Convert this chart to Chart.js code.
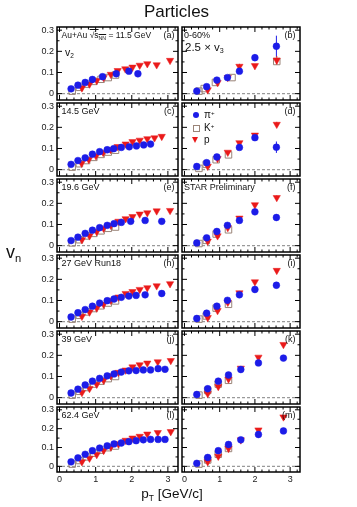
<!DOCTYPE html>
<html>
<head>
<meta charset="utf-8">
<script src="https://cdn.jsdelivr.net/npm/chart.js@4.4.0/dist/chart.umd.min.js"></script>
<style>
  body { margin: 0; background: #fff; }
  #wrap { position: relative; width: 357px; height: 507px; overflow: hidden;
          font-family: "Liberation Sans", Arial, sans-serif; color: #111; }
  #wrap canvas { position: absolute; }
  .lbl { position: absolute; line-height: 1; white-space: nowrap; }
  .sub { font-size: 0.62em; vertical-align: -0.35em; }
  .sup { font-size: 0.62em; vertical-align: 0.55em; }
  .mk { position: absolute; }
</style>
</head>
<body>
<div id="wrap"></div>
<script>
// ---- axis ranges and ticks
const xMin = -0.07, xMax = 3.28;
const yMin = -0.03, yMax = 0.315;
const xMajor = [0, 1, 2, 3];
const yMajor = [0, 0.1, 0.2, 0.3];

// ---- v2 (left column), pT bins
const pt_K_v2 = [0.35, 0.55, 0.75, 0.95, 1.15, 1.35, 1.55];

// 11.5 GeV
const pt_a_pi = [0.32, 0.51, 0.71, 0.91, 1.19, 1.57, 1.92, 2.17];
const v2_a_pi = [0.023, 0.040, 0.053, 0.067, 0.080, 0.094, 0.106, 0.094];
const pt_a_p = [0.62, 0.83, 1.03, 1.22, 1.42, 1.61, 1.82, 2.02, 2.22, 2.43, 2.69, 3.06];
const v2_a_p = [0.027, 0.045, 0.062, 0.076, 0.091, 0.109, 0.117, 0.125, 0.134, 0.141, 0.136, 0.157];
const v2_a_K = [0.012, 0.030, 0.045, 0.058, 0.068, 0.076, 0.088];

// 14.5 GeV
const pt_c_pi = [0.32, 0.51, 0.71, 0.91, 1.11, 1.32, 1.50, 1.71, 1.93, 2.13, 2.33, 2.52];
const v2_c_pi = [0.025, 0.043, 0.056, 0.073, 0.085, 0.094, 0.099, 0.105, 0.108, 0.112, 0.117, 0.121];
const pt_c_p = [0.61, 0.81, 1.01, 1.21, 1.41, 1.61, 1.83, 2.02, 2.22, 2.43, 2.63, 2.83];
const v2_c_p = [0.030, 0.048, 0.065, 0.081, 0.095, 0.109, 0.121, 0.132, 0.139, 0.146, 0.150, 0.157];
const v2_c_K = [0.012, 0.028, 0.043, 0.058, 0.072, 0.083, 0.092];

// 19.6 GeV
const pt_e_pi = [0.32, 0.51, 0.71, 0.91, 1.11, 1.32, 1.51, 1.71, 1.97, 2.37, 2.83];
const v2_e_pi = [0.024, 0.040, 0.058, 0.073, 0.085, 0.096, 0.104, 0.110, 0.115, 0.119, 0.115];
const pt_e_p = [0.62, 0.83, 1.03, 1.22, 1.42, 1.63, 1.83, 2.02, 2.22, 2.43, 2.69, 3.06];
const v2_e_p = [0.028, 0.046, 0.066, 0.082, 0.096, 0.115, 0.127, 0.137, 0.149, 0.155, 0.164, 0.166];
const v2_e_K = [0.013, 0.028, 0.046, 0.058, 0.070, 0.082, 0.088];

// 27 GeV Run18
const pt_h_pi = [0.32, 0.51, 0.71, 0.91, 1.11, 1.32, 1.51, 1.71, 1.92, 2.12, 2.37, 2.83];
const v2_h_pi = [0.022, 0.042, 0.057, 0.073, 0.088, 0.099, 0.107, 0.115, 0.121, 0.124, 0.127, 0.133];
const v2_h_p = [0.025, 0.045, 0.064, 0.082, 0.101, 0.116, 0.133, 0.142, 0.152, 0.160, 0.169, 0.179];
const v2_h_K = [0.012, 0.030, 0.046, 0.062, 0.075, 0.088, 0.098];

// 39 GeV
const pt_j_pi = [0.32, 0.51, 0.71, 0.91, 1.11, 1.32, 1.51, 1.71, 1.92, 2.12, 2.32, 2.52, 2.73, 2.92];
const v2_j_pi = [0.022, 0.040, 0.060, 0.078, 0.091, 0.103, 0.112, 0.121, 0.127, 0.128, 0.131, 0.131, 0.137, 0.134];
const pt_j_p = [0.62, 0.83, 1.03, 1.22, 1.42, 1.63, 1.83, 2.02, 2.22, 2.43, 2.72, 3.08];
const v2_j_p = [0.024, 0.043, 0.063, 0.082, 0.103, 0.119, 0.130, 0.145, 0.155, 0.163, 0.169, 0.175];
const v2_j_K = [0.012, 0.030, 0.048, 0.064, 0.078, 0.090, 0.100];

// 62.4 GeV
const v2_l_pi = [0.024, 0.045, 0.064, 0.083, 0.097, 0.109, 0.119, 0.124, 0.131, 0.136, 0.141, 0.143, 0.143, 0.143];
const v2_l_p = [0.024, 0.043, 0.062, 0.084, 0.103, 0.119, 0.138, 0.150, 0.159, 0.171, 0.179, 0.184];
const v2_l_K = [0.012, 0.031, 0.050, 0.070, 0.086, 0.099, 0.108];

// ---- 2.5 x v3 (right column)
const pt_v3_pi = [0.35, 0.63, 0.92, 1.22, 1.56, 2.00, 2.61];
const pt_v3_p = [0.66, 0.94, 1.23, 1.56, 2.00, 2.62];
const pt_v3_K = [0.41, 0.62, 0.90, 1.25];
const pt_v3_pi_hi = [0.35, 0.66, 0.96, 1.25, 1.60, 2.10, 2.81];
const pt_v3_p_hi = [0.66, 0.96, 1.25, 1.60, 2.10, 2.81];

const pt_b_K = [0.41, 0.56, 0.88, 1.35, 2.62];
const v3_b_pi = [0.012, 0.033, 0.064, 0.076, 0.106, 0.170, 0.224];
const err_b_pi = [0, 0.004, 0.005, 0.005, 0.006, 0.017, 0.050];
const v3_b_p = [0.018, 0.052, 0.076, 0.129, 0.132, 0.158];
const err_b_p = [0.004, 0.006, 0.006, 0.012, 0.006, 0.020];
const v3_b_K = [0.012, 0.024, 0.053, 0.076, 0.152];

const pt_d_pi = [0.35, 0.63, 0.92, 1.56, 2.00, 2.61];
const v3_d_pi = [0.015, 0.033, 0.060, 0.105, 0.151, 0.106];
const err_d_pi = [0, 0.004, 0.005, 0.006, 0.007, 0.027];
const v3_d_p = [0.016, 0.052, 0.082, 0.127, 0.163, 0.214];
const err_d_p = [0.004, 0.006, 0.006, 0.008, 0.008, 0.012];
const v3_d_K = [0.006, 0.025, 0.047, 0.070];

const v3_f_pi = [0.013, 0.037, 0.067, 0.096, 0.119, 0.160, 0.133];
const err_f_pi = [0, 0.004, 0.005, 0.005, 0.006, 0.006, 0.015];
const v3_f_p = [0.021, 0.046, 0.085, 0.130, 0.193, 0.227];
const err_f_p = [0.004, 0.006, 0.007, 0.008, 0.008, 0.010];
const v3_f_K = [0.010, 0.025, 0.055, 0.075];

const v3_i_pi = [0.015, 0.040, 0.073, 0.101, 0.127, 0.152, 0.172];
const v3_i_p = [0.019, 0.052, 0.091, 0.136, 0.188, 0.242];
const v3_i_K = [0.012, 0.027, 0.064, 0.082];

const pt_v3_K_hi = [0.41, 0.66, 0.96, 1.25];
const v3_k_pi = [0.015, 0.042, 0.078, 0.107, 0.133, 0.164, 0.187];
const v3_k_p = [0.019, 0.052, 0.088, 0.139, 0.191, 0.251];
const v3_k_K = [0.012, 0.034, 0.064, 0.082];

const v3_m_pi = [0.016, 0.047, 0.083, 0.116, 0.141, 0.169, 0.188];
const v3_m_p = [0.024, 0.053, 0.095, 0.140, 0.193, 0.262];
const v3_m_K = [0.012, 0.034, 0.064, 0.095];

// ---- panel layout (page pixels)
const colX = [57, 179];
const frameW = 121;
const rowY = [27, 103, 179, 255, 331, 407];
const rowH = [76, 76, 76, 76, 76, 65];

const panels = [
  { col: 0, row: 0, pi: [pt_a_pi, v2_a_pi], p: [pt_a_p, v2_a_p], K: [pt_K_v2, v2_a_K] },
  { col: 1, row: 0, pi: [pt_v3_pi, v3_b_pi, err_b_pi], p: [pt_v3_p, v3_b_p, err_b_p], K: [pt_b_K, v3_b_K] },
  { col: 0, row: 1, pi: [pt_c_pi, v2_c_pi], p: [pt_c_p, v2_c_p], K: [pt_K_v2, v2_c_K] },
  { col: 1, row: 1, pi: [pt_d_pi, v3_d_pi, err_d_pi], p: [pt_v3_p, v3_d_p, err_d_p], K: [pt_v3_K, v3_d_K] },
  { col: 0, row: 2, pi: [pt_e_pi, v2_e_pi], p: [pt_e_p, v2_e_p], K: [pt_K_v2, v2_e_K] },
  { col: 1, row: 2, pi: [pt_v3_pi, v3_f_pi, err_f_pi], p: [pt_v3_p, v3_f_p, err_f_p], K: [pt_v3_K, v3_f_K] },
  { col: 0, row: 3, pi: [pt_h_pi, v2_h_pi], p: [pt_e_p, v2_h_p], K: [pt_K_v2, v2_h_K] },
  { col: 1, row: 3, pi: [pt_v3_pi, v3_i_pi], p: [pt_v3_p, v3_i_p], K: [pt_v3_K, v3_i_K] },
  { col: 0, row: 4, pi: [pt_j_pi, v2_j_pi], p: [pt_j_p, v2_j_p], K: [pt_K_v2, v2_j_K] },
  { col: 1, row: 4, pi: [pt_v3_pi_hi, v3_k_pi], p: [pt_v3_p_hi, v3_k_p], K: [pt_v3_K_hi, v3_k_K] },
  { col: 0, row: 5, pi: [pt_j_pi, v2_l_pi], p: [pt_j_p, v2_l_p], K: [pt_K_v2, v2_l_K] },
  { col: 1, row: 5, pi: [pt_v3_pi_hi, v3_m_pi], p: [pt_v3_p_hi, v3_m_p], K: [pt_v3_K_hi, v3_m_K] }
];

const wrap = document.getElementById('wrap');
const tickFont = { family: 'Liberation Sans', size: 9 };

// frame, inward ticks and error bars (ROOT style)
const framePlugin = {
  id: 'frame',
  beforeDatasetsDraw(chart) {
    const { ctx, scales: { x, y } } = chart;
    ctx.save();
    ctx.lineWidth = 1;
    chart.data.datasets.forEach(ds => {
      if (!ds.errors) return;
      ctx.strokeStyle = ds.pointBorderColor;
      ds.data.forEach((pt, i) => {
        const e = ds.errors[i];
        if (!e) return;
        const px = x.getPixelForValue(pt.x);
        ctx.beginPath();
        ctx.moveTo(px, y.getPixelForValue(pt.y - e));
        ctx.lineTo(px, y.getPixelForValue(pt.y + e));
        ctx.stroke();
      });
    });
    ctx.restore();
  },
  afterDatasetsDraw(chart) {
    const { ctx, chartArea: a, scales: { x, y } } = chart;
    ctx.save();
    ctx.strokeStyle = '#000';
    ctx.lineWidth = 1;
    ctx.beginPath();
    for (let i = 0; i <= 16; i++) {
      const v = i * 0.2;
      const len = i % 5 === 0 ? 5 : 2.5;
      const px = x.getPixelForValue(v);
      ctx.moveTo(px, a.bottom); ctx.lineTo(px, a.bottom - len);
      ctx.moveTo(px, a.top); ctx.lineTo(px, a.top + len);
    }
    for (let i = 0; i <= 6; i++) {
      const v = i * 0.05;
      const len = i % 2 === 0 ? 5 : 2.5;
      const py = y.getPixelForValue(v);
      ctx.moveTo(a.left, py); ctx.lineTo(a.left + len, py);
      ctx.moveTo(a.right, py); ctx.lineTo(a.right - len, py);
    }
    ctx.stroke();
    ctx.lineWidth = 1.5;
    ctx.strokeRect(a.left, a.top, a.right - a.left, a.bottom - a.top);
    ctx.restore();
  }
};

function series(arr, style, order) {
  const [pts, vals, errs] = arr;
  return Object.assign({
    data: pts.map((p, i) => ({ x: p, y: vals[i] })),
    errors: errs,
    showLine: false,
    clip: false,
    order: order
  }, style);
}

const piStyle = { pointStyle: 'circle', pointRadius: 3.4, pointBackgroundColor: '#1c1ce8', pointBorderColor: '#1c1ce8', pointBorderWidth: 0.5 };
const pStyle = { pointStyle: 'triangle', pointRotation: 180, pointRadius: 4.2, pointBackgroundColor: '#ea1a1a', pointBorderColor: '#ea1a1a', pointBorderWidth: 0.5 };
const kStyle = { pointStyle: 'rect', pointRadius: 4.6, pointBackgroundColor: 'rgba(0,0,0,0)', pointBorderColor: '#9a8478', pointBorderWidth: 1 };

function makeChart(p) {
  const left = p.col === 0;
  const bottom = p.row === 5;
  const padL = left ? 27 : 3, padR = 4, padT = 3, padB = bottom ? 14 : 3;
  const w = padL + frameW + padR, h = padT + rowH[p.row] + padB;
  const c = document.createElement('canvas');
  c.width = w; c.height = h;
  c.style.width = w + 'px'; c.style.height = h + 'px';
  c.style.left = (colX[p.col] - padL) + 'px';
  c.style.top = (rowY[p.row] - padT) + 'px';
  wrap.appendChild(c);

  new Chart(c, {
    type: 'scatter',
    data: {
      datasets: [
        series(p.pi, piStyle, 0),
        series(p.p, pStyle, 1),
        series(p.K, kStyle, 2),
        {
          type: 'line',
          data: [{ x: xMin, y: 0 }, { x: xMax, y: 0 }],
          borderColor: '#9a9a9a', borderWidth: 1.3, borderDash: [3, 2],
          pointRadius: 0, order: 3
        }
      ]
    },
    options: {
      responsive: false,
      animation: false,
      events: [],
      layout: { autoPadding: false,
                padding: { left: left ? 0 : padL, right: padR, top: padT, bottom: bottom ? 0 : padB } },
      plugins: { legend: { display: false }, tooltip: { enabled: false } },
      scales: {
        x: {
          type: 'linear', min: xMin, max: xMax, display: bottom,
          grid: { display: false, drawTicks: false }, border: { display: false },
          ticks: { font: tickFont, color: '#222', padding: 2, maxRotation: 0, autoSkip: false },
          afterBuildTicks: s => { s.ticks = xMajor.map(v => ({ value: v })); },
          afterFit: s => { s.height = padB; s.paddingLeft = 0; s.paddingRight = 0; }
        },
        y: {
          type: 'linear', min: yMin, max: yMax, display: left,
          grid: { display: false, drawTicks: false }, border: { display: false },
          ticks: { font: tickFont, color: '#222', padding: 3, autoSkip: false,
                   callback: v => (v === 0 ? '0' : v.toFixed(1)) },
          afterBuildTicks: s => { s.ticks = yMajor.map(v => ({ value: v })); },
          afterFit: s => { s.width = padL; s.paddingTop = 0; s.paddingBottom = 0; }
        }
      }
    },
    plugins: [framePlugin]
  });
}

panels.forEach(makeChart);

// ---- text
function label(html, x, cy, size, align) {
  const d = document.createElement('div');
  d.className = 'lbl';
  d.innerHTML = html;
  d.style.fontSize = size + 'px';
  d.style.top = (cy - size * 0.49) + 'px';
  if (align === 'right') { d.style.left = (x - 100) + 'px'; d.style.width = '100px'; d.style.textAlign = 'right'; }
  else if (align === 'center') { d.style.left = (x - 100) + 'px'; d.style.width = '200px'; d.style.textAlign = 'center'; }
  else d.style.left = x + 'px';
  wrap.appendChild(d);
}

label('Particles', 176.5, 11, 17, 'center');
label('v<span class="sub">n</span>', 6, 252, 18);
label('p<span class="sub">T</span> [GeV/c]', 172, 494, 13.5, 'center');

const energies = ['Au+Au <span style="text-decoration:overline">&radic;s<span class="sub">NN</span></span> = 11.5 GeV',
  '14.5 GeV', '19.6 GeV', '27 GeV Run18', '39 GeV', '62.4 GeV'];
const leftTags = ['(a)', '(c)', '(e)', '(h)', '(j)', '(l)'];
const rightTags = ['(b)', '(d)', '(f)', '(i)', '(k)', '(m)'];
rowY.forEach((top, r) => {
  label(energies[r], 61.5, top + 8, r === 0 ? 8.5 : 9);
  label(leftTags[r], 174.5, top + 8, 9, 'right');
  label(rightTags[r], 295.5, top + 8, 9, 'right');
});
label('v<span class="sub">2</span>', 65, 52, 10.5);
label('0-60%', 184, 35, 9);
label('2.5 &times; v<span class="sub">3</span>', 185, 48, 11.5);
label('STAR Preliminary', 184, 187, 9);

// legend in (d)
function marker(css) {
  const m = document.createElement('div');
  m.className = 'mk';
  m.style.cssText += css;
  wrap.appendChild(m);
}
marker('left:192.6px;top:111.6px;width:6.8px;height:6.8px;border-radius:50%;background:#1c1ce8;');
marker('left:192.5px;top:124.5px;width:5.5px;height:5.5px;border:1px solid #9a8478;');
marker('left:192.4px;top:137px;width:0;height:0;border-left:3.6px solid transparent;border-right:3.6px solid transparent;border-top:6.2px solid #ea1a1a;');
label('&pi;<span class="sup">+</span>', 204, 115, 10);
label('K<span class="sup">+</span>', 204, 128, 10);
label('p', 204, 140, 10);
</script>
</body>
</html>
